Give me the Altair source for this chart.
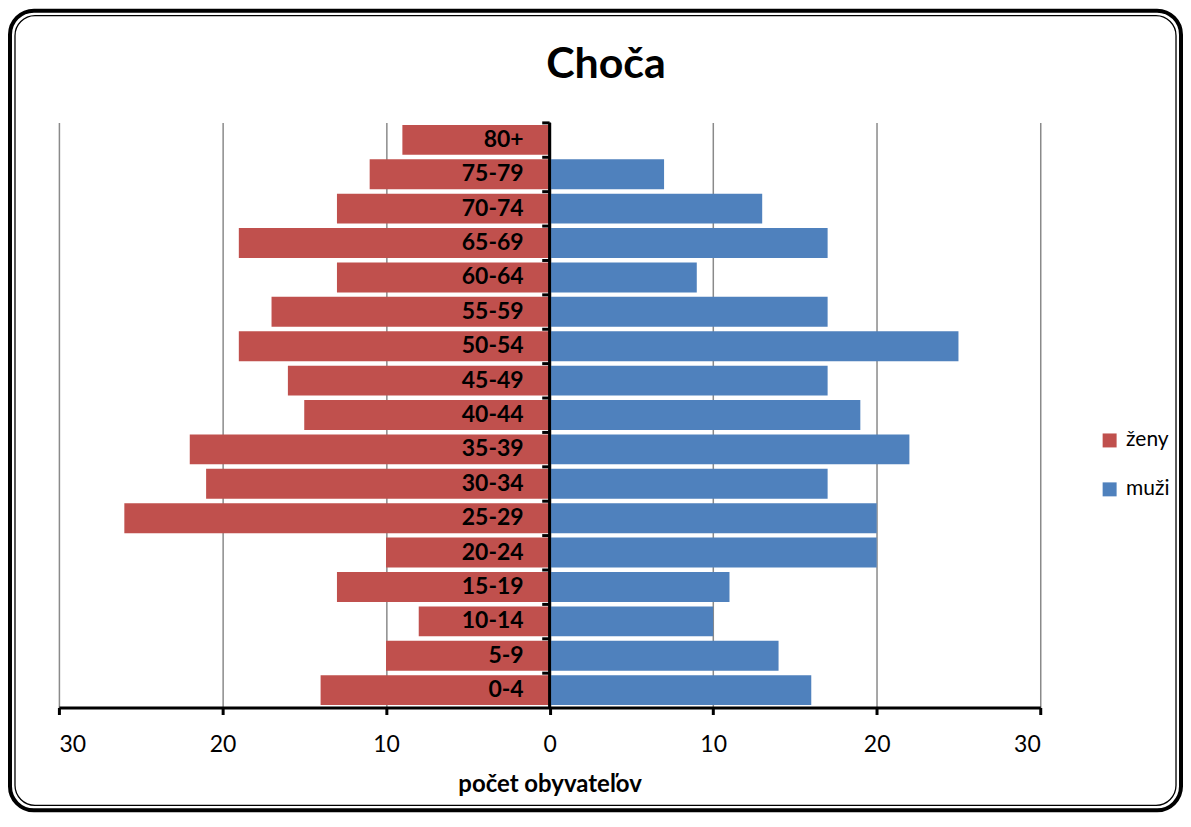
import altair as alt
import pandas as pd

ages = ["0-4", "5-9", "10-14", "15-19", "20-24", "25-29", "30-34", "35-39",
        "40-44", "45-49", "50-54", "55-59", "60-64", "65-69", "70-74", "75-79", "80+"]
zeny = [14, 10, 8, 13, 10, 26, 21, 22, 15, 16, 19, 17, 13, 19, 13, 11, 9]
muzi = [16, 14, 10, 11, 20, 20, 17, 22, 19, 17, 25, 17, 9, 17, 13, 7, 0]
sexes = ["ženy", "muži"]
colors = ["#C0504D", "#4F81BD"]
x_ticks = [-30, -20, -10, 0, 10, 20, 30]
title_text = "Choča"
x_title = "počet obyvateľov"

rows = []
for a, z, m in zip(ages, zeny, muzi):
    rows.append({"vek": a, "pohlavie": sexes[0], "pocet": -z})
    rows.append({"vek": a, "pohlavie": sexes[1], "pocet": m})
df = pd.DataFrame(rows)
age_df = pd.DataFrame({"vek": ages})

FONT = "Lato"
y_order = list(reversed(ages))
yscale = alt.Scale(domain=y_order, paddingInner=0.13, paddingOuter=0.07)
xscale = alt.Scale(domain=[-30, 30], nice=False)

one = alt.Data(values=[{"k": 1}])

frame_outer = alt.Chart(one).mark_rect(
    fillOpacity=0, stroke="black", strokeWidth=4, cornerRadius=24
).encode(x=alt.value(-49), x2=alt.value(1124), y=alt.value(-112), y2=alt.value(689))

frame_inner = alt.Chart(one).mark_rect(
    fillOpacity=0, stroke="black", strokeWidth=1.3, cornerRadius=20
).encode(x=alt.value(-44), x2=alt.value(1119), y=alt.value(-107), y2=alt.value(684))

title_mark = alt.Chart(one).mark_text(
    text=title_text, font=FONT, fontSize=43, fontWeight="bold", color="black",
    align="center", baseline="middle"
).encode(x=alt.value(548), y=alt.value(-58))

bars = alt.Chart(df).mark_bar().encode(
    x=alt.X("pocet:Q", scale=xscale, stack=None,
            axis=alt.Axis(values=x_ticks, labelExpr="format(abs(datum.value), 'd')",
                          title=x_title, titleFont=FONT, titleFontSize=24,
                          titleFontWeight="bold", titleColor="black", titlePadding=16,
                          labelFont=FONT, labelFontSize=23, labelColor="black",
                          labelPadding=19, domainColor="black", domainWidth=3,
                          tickColor="black", tickWidth=3, tickSize=7,
                          grid=True, gridColor="#8a8a8a", gridWidth=1.5)),
    y=alt.Y("vek:N", scale=yscale, sort=y_order, axis=None),
    color=alt.Color("pohlavie:N", scale=alt.Scale(domain=sexes, range=colors),
                    legend=alt.Legend(orient="none", legendX=1042, legendY=308,
                                      title=None, symbolType="square", symbolSize=196,
                                      symbolStrokeWidth=0, labelFont=FONT,
                                      labelFontSize=21, labelColor="black",
                                      rowPadding=27, labelOffset=6, padding=0)),
)

zero_rule = alt.Chart(one).mark_rule(color="black", strokeWidth=3).encode(
    x=alt.datum(0)
)

ticks = alt.Chart(age_df).mark_rule(color="black", strokeWidth=3).encode(
    y=alt.Y("vek:N", scale=yscale, sort=y_order, bandPosition=0),
    x=alt.datum(0), x2=alt.datum(-0.45), yOffset=alt.value(-2)
)

labels = alt.Chart(age_df).mark_text(
    font=FONT, fontSize=23, fontWeight="bold", color="black",
    align="right", baseline="middle", dx=-26
).encode(
    y=alt.Y("vek:N", scale=yscale, sort=y_order),
    x=alt.datum(0),
    text="vek:N",
)

chart = alt.layer(
    frame_outer, frame_inner, title_mark, bars, zero_rule, ticks, labels
).properties(
    width=983, height=586, padding=0, background="white"
).configure_view(stroke=None)

chart.save("out.html", embed_options={"renderer": "svg", "actions": False})
